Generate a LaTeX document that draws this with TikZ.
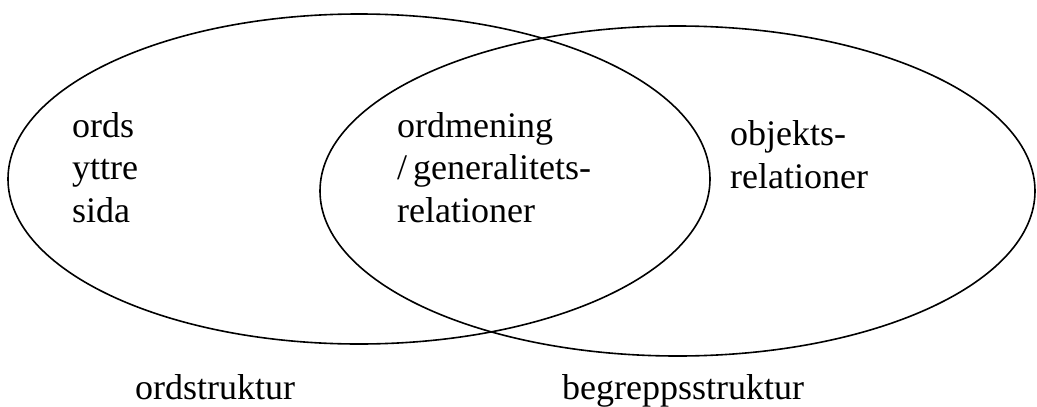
\documentclass[tikz,border=0pt]{standalone}
\usepackage{fontspec}
\setmainfont{Liberation Serif}
\begin{document}
\begin{tikzpicture}[x=1pt,y=-1pt,
  ring/.style={draw=black,line width=1.6pt},
  lbl/.style={anchor=base west,inner sep=0pt,align=left,font=\fontsize{36}{42.5}\selectfont}]
\useasboundingbox (0,0) rectangle (1037,407);
\draw[ring] (359,179) ellipse [x radius=351,y radius=165];
\draw[ring] (677.5,191) ellipse [x radius=357.5,y radius=165];
\node[lbl] (ords) at (72,222) {ords\\yttre\\sida};
\node[lbl] (mening) at (397,222) {ordmening\\/\,generalitets-\\relationer};
\node[lbl] (objekt) at (730,188) {objekts-\\relationer};
\node[lbl] (ordstr) at (135,399) {ordstruktur};
\node[lbl] (begr) at (562,399) {begreppsstruktur};
\end{tikzpicture}
\end{document}
